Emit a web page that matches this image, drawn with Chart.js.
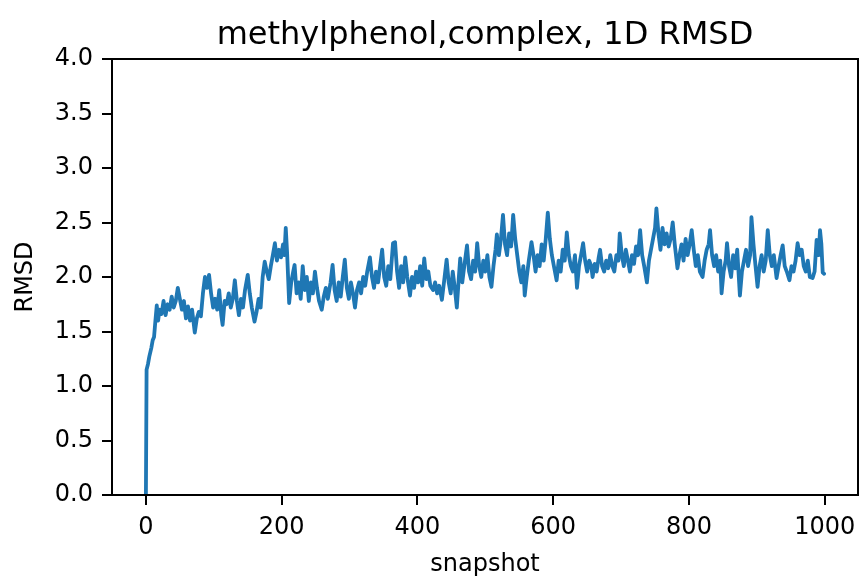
<!DOCTYPE html>
<html>
<head>
<meta charset="utf-8">
<title>methylphenol,complex, 1D RMSD</title>
<script src="https://cdn.jsdelivr.net/npm/chart.js@4.4.1/dist/chart.umd.min.js"></script>
<style>
  body { margin: 0; background: #fff; }
  #wrap { width: 864px; height: 581px; }
</style>
</head>
<body>
<div id="wrap"><canvas id="rmsd-chart" width="864" height="581"></canvas></div>
<script>
// Dados (snapshot -> RMSD)
const snapshots = [
  0, 1, 3, 5, 8, 10, 12, 14, 16, 18, 20, 23, 26, 29, 32, 35, 38, 41, 44, 47,
  50, 53, 56, 59, 62, 65, 68, 72, 75, 78, 81, 84, 87, 90, 93, 96, 99, 102, 105, 108,
  111, 113, 116, 119, 122, 125, 128, 131, 134, 137, 140, 143, 146, 150, 153, 156, 160, 163, 166, 169,
  172, 175, 178, 181, 184, 187, 190, 193, 196, 199, 202, 204, 206, 208, 211, 214, 217, 219, 222, 225,
  228, 231, 234, 237, 240, 243, 246, 249, 252, 255, 259, 262, 265, 268, 272, 275, 278, 281, 284, 287,
  290, 293, 296, 299, 302, 305, 308, 311, 314, 317, 320, 323, 326, 330, 333, 336, 339, 342, 345, 348,
  351, 354, 357, 360, 364, 367, 370, 373, 376, 379, 382, 385, 389, 392, 395, 398, 401, 404, 407, 410,
  413, 416, 419, 423, 426, 429, 432, 436, 440, 443, 446, 449, 452, 455, 458, 461, 463, 466, 469, 473,
  476, 479, 482, 485, 488, 491, 494, 497, 500, 503, 506, 509, 512, 515, 517, 520, 523, 526, 529, 532,
  535, 538, 541, 544, 547, 550, 553, 556, 558, 561, 564, 568, 571, 574, 577, 580, 583, 586, 589, 592,
  595, 598, 601, 605, 608, 611, 614, 617, 620, 623, 626, 629, 632, 635, 638, 641, 644, 647, 650, 653,
  656, 658, 661, 664, 667, 669, 672, 675, 678, 681, 684, 687, 690, 693, 696, 698, 701, 704, 707, 710,
  713, 716, 719, 722, 725, 728, 731, 734, 738, 741, 744, 747, 750, 752, 755, 758, 761, 764, 767, 770,
  773, 776, 779, 783, 786, 789, 792, 795, 798, 801, 804, 807, 810, 813, 816, 820, 823, 826, 829, 831,
  834, 837, 840, 843, 846, 848, 851, 854, 856, 859, 862, 865, 868, 871, 875, 878, 881, 884, 887, 890,
  892, 895, 898, 901, 904, 907, 910, 913, 916, 919, 922, 925, 929, 932, 935, 938, 941, 944, 948, 951,
  954, 957, 960, 963, 966, 969, 972, 975, 978, 982, 985, 988, 991, 993, 995, 997, 999
];

const rmsd = [
  0.00, 1.15, 1.20, 1.27, 1.35, 1.42, 1.45, 1.60, 1.74, 1.60, 1.70, 1.66, 1.78, 1.65, 1.75, 1.70, 1.82, 1.72, 1.78, 1.90,
  1.80, 1.70, 1.78, 1.62, 1.73, 1.60, 1.70, 1.49, 1.62, 1.68, 1.64, 1.85, 2.00, 1.90, 2.02, 1.85, 1.72, 1.80, 1.70, 1.88,
  1.65, 1.56, 1.78, 1.75, 1.85, 1.72, 1.80, 1.97, 1.78, 1.65, 1.80, 1.72, 1.88, 2.02, 1.85, 1.72, 1.59, 1.68, 1.80, 1.72,
  2.00, 2.14, 2.05, 1.98, 2.10, 2.20, 2.31, 2.15, 2.25, 2.18, 2.30, 2.20, 2.45, 2.22, 1.76, 1.95, 2.05, 2.11, 1.85, 1.95,
  1.80, 2.10, 1.88, 2.00, 1.78, 1.95, 1.85, 2.05, 1.90, 1.78, 1.70, 1.82, 1.90, 1.80, 1.95, 2.11, 1.88, 1.78, 1.95, 1.82,
  2.00, 2.16, 1.90, 1.80, 1.95, 1.85, 1.72, 1.88, 1.95, 1.85, 2.00, 1.92, 2.05, 2.18, 2.00, 1.90, 2.05, 1.95, 2.10, 2.25,
  2.00, 1.92, 2.10, 1.98, 2.31, 2.32, 2.05, 1.90, 2.10, 1.95, 2.18, 2.00, 1.83, 2.00, 1.90, 2.05, 1.95, 2.10, 1.92, 2.17,
  1.98, 2.05, 1.92, 1.88, 1.95, 1.85, 1.92, 1.79, 2.00, 2.16, 1.95, 1.85, 2.05, 1.90, 1.72, 2.00, 2.17, 1.95, 2.10, 2.29,
  2.05, 1.98, 2.15, 2.05, 2.31, 2.10, 2.00, 2.15, 2.05, 2.20, 2.00, 1.91, 2.10, 2.25, 2.39, 2.20, 2.35, 2.57, 2.30, 2.20,
  2.40, 2.28, 2.57, 2.35, 2.20, 2.05, 1.95, 2.10, 1.83, 2.00, 2.15, 2.32, 2.20, 2.05, 2.20, 2.10, 2.30, 2.15, 2.35, 2.59,
  2.35, 2.20, 2.10, 1.97, 2.15, 2.05, 2.25, 2.15, 2.41, 2.20, 2.10, 2.05, 2.20, 1.90, 2.10, 2.20, 2.31, 2.15, 2.05, 2.15,
  2.10, 2.00, 2.12, 2.05, 2.18, 2.25, 2.10, 2.05, 2.15, 2.08, 2.20, 2.10, 2.05, 2.20, 2.15, 2.40, 2.20, 2.10, 2.25, 2.15,
  2.05, 2.20, 2.12, 2.28, 2.20, 2.43, 2.20, 2.10, 1.95, 2.15, 2.25, 2.35, 2.45, 2.63, 2.40, 2.25, 2.45, 2.30, 2.40, 2.28,
  2.35, 2.50, 2.30, 2.08, 2.20, 2.30, 2.15, 2.35, 2.20, 2.30, 2.43, 2.25, 2.10, 2.20, 2.05, 2.00, 2.15, 2.25, 2.30, 2.43,
  2.20, 2.10, 2.20, 2.05, 2.15, 1.85, 2.05, 2.15, 2.31, 2.10, 2.00, 2.20, 2.08, 2.25, 1.83, 2.05, 2.15, 2.25, 2.10, 2.20,
  2.55, 2.30, 2.10, 1.91, 2.10, 2.20, 2.05, 2.15, 2.43, 2.20, 2.10, 2.20, 1.99, 2.10, 2.20, 2.29, 2.10, 2.05, 1.97, 2.10,
  2.05, 2.15, 2.31, 2.20, 2.25, 2.10, 2.05, 2.15, 2.00, 1.99, 2.05, 2.34, 2.20, 2.43, 2.30, 2.04, 2.03
];

// Ticks dos eixos
const xTicks = [0, 200, 400, 600, 800, 1000];
const yTicks = [0, 0.5, 1.0, 1.5, 2.0, 2.5, 3.0, 3.5, 4.0];

const FONT = 'DejaVu Sans';

// Título e moldura desenhados à mão (estilo matplotlib)
const framePlugin = {
    id: 'frame',
    afterDraw(chart) {
        const { ctx, chartArea } = chart;
        ctx.save();
        ctx.strokeStyle = '#000';
        ctx.lineWidth = 2;
        ctx.strokeRect(chartArea.left, chartArea.top, chartArea.right - chartArea.left, chartArea.bottom - chartArea.top);
        ctx.fillStyle = '#000';
        ctx.font = '32px "' + FONT + '"';
        ctx.textAlign = 'center';
        ctx.textBaseline = 'alphabetic';
        ctx.fillText('methylphenol,complex, 1D RMSD', (chartArea.left + chartArea.right) / 2, 44);
        ctx.restore();
    }
};

const points = snapshots.map((s, i) => ({ x: s, y: rmsd[i] }));

new Chart(document.getElementById('rmsd-chart'), {
    type: 'line',
    data: {
        datasets: [{
            label: 'RMSD',
            data: points,
            borderColor: '#1f77b4',
            borderWidth: 3.8,
            borderJoinStyle: 'round',
            borderCapStyle: 'round',
            pointRadius: 0,
            tension: 0,
            fill: false
        }]
    },
    options: {
        responsive: false,
        animation: false,
        devicePixelRatio: 1,
        layout: { padding: { top: 59, right: 6, left: 0, bottom: 0 } },
        plugins: {
            legend: { display: false },
            tooltip: { enabled: false }
        },
        scales: {
            x: {
                type: 'linear',
                min: -49.95,
                max: 1048.95,
                afterBuildTicks: scale => { scale.ticks = xTicks.map(v => ({ value: v })); },
                afterFit: scale => { scale.height = 86; },
                grid: { drawOnChartArea: false, color: '#000', lineWidth: 2, tickLength: 10 },
                border: { color: '#000', width: 2 },
                ticks: {
                    color: '#000',
                    padding: 8,
                    maxRotation: 0,
                    font: { family: FONT, size: 24 },
                    callback: v => String(v)
                },
                title: {
                    display: true,
                    text: 'snapshot',
                    color: '#000',
                    padding: { top: 0, bottom: 2 },
                    font: { family: FONT, size: 24 }
                }
            },
            y: {
                min: 0,
                max: 4,
                afterBuildTicks: scale => { scale.ticks = yTicks.map(v => ({ value: v })); },
                afterFit: scale => { scale.width = 112; },
                grid: { drawOnChartArea: false, color: '#000', lineWidth: 2, tickLength: 10 },
                border: { color: '#000', width: 2 },
                ticks: {
                    color: '#000',
                    padding: 9,
                    font: { family: FONT, size: 24 },
                    callback: v => v.toFixed(1)
                },
                title: {
                    display: true,
                    text: 'RMSD',
                    color: '#000',
                    padding: { top: 11, bottom: 0 },
                    font: { family: FONT, size: 24 }
                }
            }
        }
    },
    plugins: [framePlugin]
});
</script>
</body>
</html>
